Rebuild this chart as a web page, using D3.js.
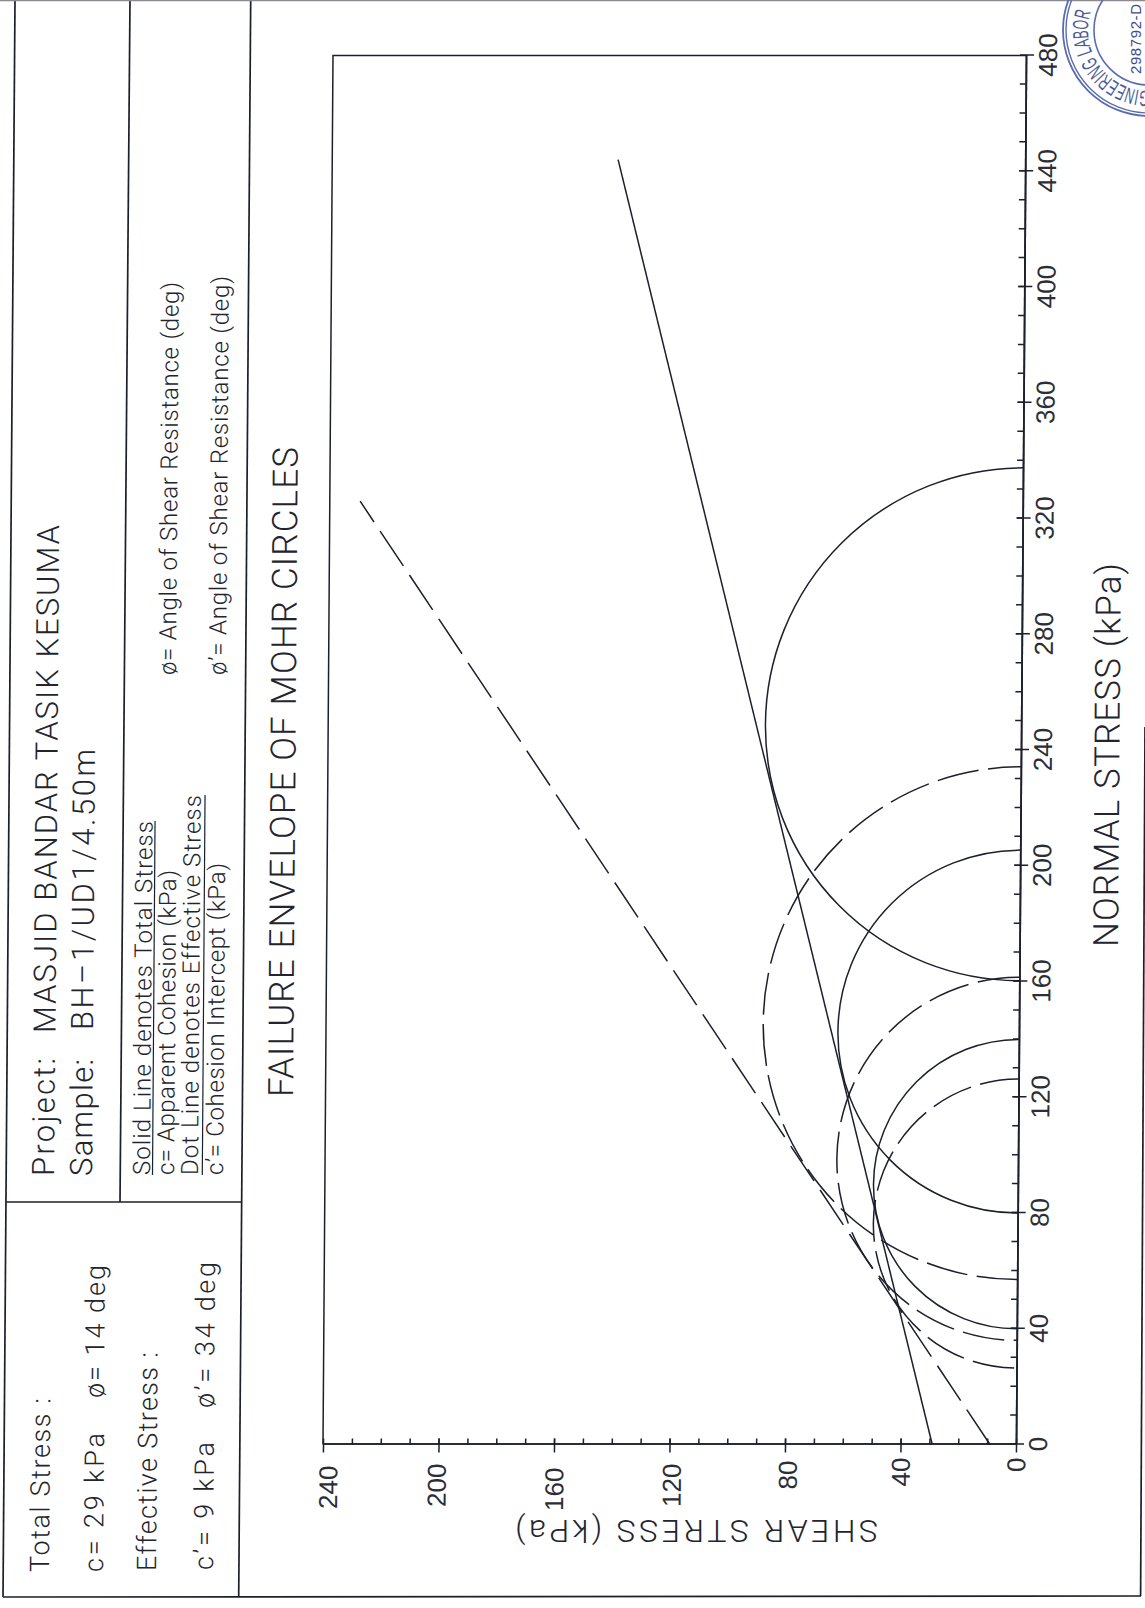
<!DOCTYPE html>
<html><head><meta charset="utf-8">
<script src="https://cdn.jsdelivr.net/npm/d3@7/dist/d3.min.js"></script>
<style>
html,body{margin:0;padding:0;background:#fff}
svg{display:block}
text{font-family:Roboto,"Liberation Sans",sans-serif;font-weight:300;fill:#23252e;white-space:pre}
.num text,text.num{font-family:"Liberation Sans",sans-serif;font-weight:400;fill:#2c2e36}
</style></head><body>
<svg id="c" width="1145" height="1608"></svg>
<script>
// ---------- data (kPa) ----------
const normalDomain = [0, 480];
const shearDomain = [0, 240];
const normalMajor = [0,40,80,120,160,200,240,280,320,360,400,440,480];
const shearMajor = [0,40,80,120,160,200,240];
const normalMinor = d3.range(10,480,10);
const shearMinor = d3.range(10,240,10);
const totalCircles = [[40,140],[80,205.4],[160.3,337.5]];
const effectiveCircles = [[26.4,126.3],[36,161.5],[57,234.2]];
const effectiveDashOffsets = [3,0,9];
const totalEnvelope = [[0,29],[444,141]];
const effectiveEnvelope = [[0,9],[326,229.5]];
// as printed: distance of each shear label from the axis, and its drift
const shearLabelGap = [13,13,16,19,23,19,21];
const shearLabelDrift = [0,0,2.5,2,0,-2,5];

// ---------- labels: [text, baseline x, start y, end y, size] ----------
const panelTexts = [
 ["Total Stress :",49,1572,1398,27],
 ["c= 29 kPa",103,1572,1433,27],
 ["ø= 14 deg",104,1398,1265,27],
 ["Effective Stress :",156,1571,1352,27],
 ["c’= 9 kPa",213,1570,1442,27],
 ["ø’= 34 deg",214,1408,1262,27],
 ["Project:",54,1176,1058,31],
 ["MASJID BANDAR TASIK KESUMA",55.5,1033,525,31],
 ["Sample:",92,1176,1059,31],
 ["BH–1/UD1/4.50m",93,1030,749,31],
 ["Solid Line denotes Total Stress",150,1175,821,24],
 ["c= Apparent Cohesion (kPa)",174,1175,870,24],
 ["ø= Angle of Shear Resistance (deg)",176,675,282,24],
 ["Dot Line denotes Effective Stress",198,1175,795,24],
 ["c’= Cohesion Intercept (kPa)",223,1175,863,24],
 ["ø’= Angle of Shear Resistance (deg)",226,675,276,24],
 ["FAILURE ENVELOPE OF MOHR CIRCLES",293,1097,447,35],
 ["NORMAL STRESS (kPa)",1118,947,563,35]
];
const shearTitle = "SHEAR STRESS (kPa)";
const stampRing = "GINEERING LABOR";
const stampCode = "298792-D";

const INK="#1c1f2c", TILT=0.0072;
const svg=d3.select("#c");

// table rules
const rules=[[15,0,3,1597],[130,0,120,1202],[250.7,0,238.7,1597],[6,1202,241,1202],[3,1597,1141,1596],[1145,727,1140.6,1596]];
svg.append("g").selectAll("line").data(rules).join("line")
  .attr("x1",d=>d[0]).attr("y1",d=>d[1]).attr("x2",d=>d[2]).attr("y2",d=>d[3])
  .attr("stroke",INK).attr("stroke-width",1.7);
svg.append("line").attr("x1",0).attr("y1",0.5).attr("x2",1145).attr("y2",0.5).attr("stroke","#8a8a90").attr("stroke-width",1.5);

// panel text
panelTexts.forEach(([t,bx,y0,y1,fs])=>{
  svg.append("text").attr("transform",`matrix(${TILT},-1,1,0,${bx},${y0})`)
    .attr("font-size",fs).attr("textLength",y0-y1).attr("lengthAdjust","spacing").text(t);
});
// underlines of the two legend lines
[[152.5,1175,821],[202.3,1175,795]].forEach(([x,a,b])=>{
  svg.append("line").attr("x1",x).attr("y1",a).attr("x2",x+(a-b)*TILT).attr("y2",b)
    .attr("stroke",INK).attr("stroke-width",1.2);
});
svg.append("text").attr("transform","translate(878,1520) rotate(180)")
  .attr("font-size",32).attr("textLength",363).attr("lengthAdjust","spacing").text(shearTitle);

// plot
const x=d3.scaleLinear().domain(normalDomain).range([0,1389]);
const y=d3.scaleLinear().domain(shearDomain).range([0,-693]);
const g=svg.append("g").attr("transform",`matrix(${TILT},-1,1,0,1016,1444.5)`);

const frame=d3.line()([[x(480),y(0)],[x(480),y(240)],[x(0),y(240)]]);
g.append("path").attr("d",frame).attr("fill","none").attr("stroke",INK).attr("stroke-width",1.5);

function styleAxis(a){a.selectAll("line").attr("stroke",INK).attr("stroke-width",1.5);a.selectAll(".domain").attr("stroke",INK).attr("stroke-width",1.7);}
g.append("g").call(d3.axisTop(x).tickValues(normalMinor.concat(normalMajor)).tickSize(6).tickSizeOuter(0).tickFormat("")).call(styleAxis);
g.append("g").call(d3.axisRight(y).tickValues(shearMinor.concat(shearMajor)).tickSize(6).tickSizeOuter(0).tickFormat("")).call(styleAxis);

const nAxis=g.append("g").attr("class","num").call(d3.axisBottom(x).tickValues(normalMajor).tickSize(8).tickSizeOuter(0).tickFormat(d3.format("d"))).call(styleAxis);
nAxis.selectAll("text").attr("y",31).attr("dy",0).style("font-size","26px");
nAxis.attr("font-family",null).attr("font-size",null);
const sAxis=g.append("g").attr("class","num").call(d3.axisLeft(y).tickValues(shearMajor).tickSize(8).tickSizeOuter(0).tickFormat(d3.format("d"))).call(styleAxis);
sAxis.selectAll("text")
  .attr("x",(d,i)=>-shearLabelGap[i])
  .attr("dy",(d,i)=>(9+shearLabelDrift[i]))
  .style("font-size","26px");
sAxis.attr("font-family",null).attr("font-size",null);

// Mohr circles
function halfCircle([lo,hi]){
  const rx=(x(hi)-x(lo))/2, ry=Math.abs(y((hi-lo)/2)-y(0));
  return `M${x(hi)},${y(0)}A${rx},${ry} 0 0 0 ${x(lo)},${y(0)}`;
}
const marks=g.append("g").attr("fill","none").attr("stroke",INK).attr("stroke-width",1.5);
marks.selectAll("path.t").data(totalCircles).join("path").attr("class","t").attr("d",halfCircle);
marks.selectAll("path.e").data(effectiveCircles).join("path").attr("class","e").attr("d",halfCircle)
  .attr("stroke-dasharray","42 9.5").attr("stroke-dashoffset",(d,i)=>effectiveDashOffsets[i]);
const env=d3.line().x(d=>x(d[0])).y(d=>y(d[1]));
marks.append("path").attr("d",env(totalEnvelope));
marks.append("path").attr("d",env(effectiveEnvelope)).attr("stroke-dasharray","42 11");

// stamp
const BLUE="#5a6cae";
const st=svg.append("g").attr("transform","translate(1149,30)").attr("fill","none").attr("stroke",BLUE);
[[86,1.8],[83,1.4],[55,1.6]].forEach(([r,w])=>st.append("circle").attr("r",r).attr("stroke-width",w));
svg.append("defs").append("path").attr("id","sr").attr("d","M1149,91A61,61 0 1 1 1149.1,91");
svg.append("text").attr("font-size",22).attr("textLength",114).attr("lengthAdjust","spacingAndGlyphs")
  .style("font-family","'Liberation Sans'").style("font-weight",400).style("fill","#4a5a9c")
  .append("textPath").attr("href","#sr").text(stampRing);
svg.append("text").attr("transform","translate(1141,74) rotate(-90)").attr("font-size",15).attr("textLength",70)
  .style("font-family","'Liberation Sans'").style("font-weight",400).style("fill","#3d4c8a").text(stampCode);
</script>
</body></html>
